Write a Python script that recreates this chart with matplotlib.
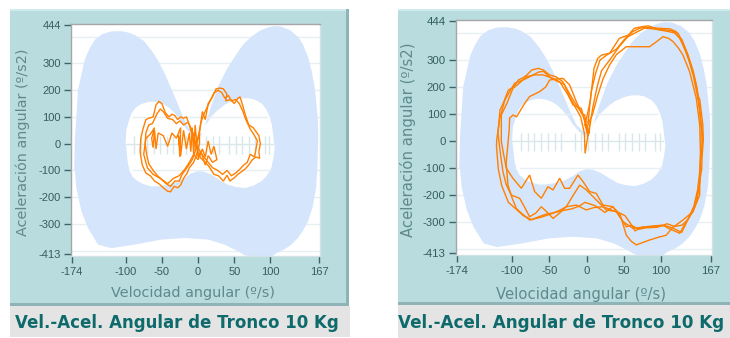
import matplotlib
matplotlib.use("Agg")
import matplotlib.pyplot as plt
from matplotlib.patches import Rectangle, Polygon

W, H = 730, 338

# ---------------- text / ticks ----------------
title_text = "Vel.-Acel. Angular de Tronco 10 Kg"
xlabel_text = "Velocidad angular (º/s)"
ylabel_text = "Aceleración angular (º/s2)"
x_ticks = [-174, -100, -50, 0, 50, 100, 167]
y_ticks = [-413, -300, -200, -100, 0, 100, 200, 300, 444]
grid_levels = [-400, -300, -200, -100, 100, 200, 300, 400]
strip_ticks_v = [-88, -79, -70, -61, -52, -43, -34, -16, -7, 2, 11, 20, 29,
                 43, 52, 61, 70, 79, 92, 98]

# ---------------- normative band (light blue) ----------------
band_outer_v = [-171, -170, -168, -165.7, -160, -156.5, -150, -142.7, -132, -120, -106,
                -95, -87.5, -75, -64.5, -55, -46, -32.2, -20.7, -13.8, -6, 0,
                6, 9.2, 18, 27.6, 40, 50.6, 62, 73.6, 85, 96.6, 105, 115, 127,
                138, 145, 151.8, 157, 161, 165.6, 166, 165, 163, 158, 151.8, 145,
                138, 128, 119.6, 108, 101, 80, 64.4, 55.2, 36.8, 13.8, -18.4,
                -50.7, -87.5, -119.7, -138, -151.9, -161, -168, -170]
band_outer_a = [-100, 14, 100, 201, 270, 313, 355, 388, 410, 420, 421,
                415, 407, 385, 350, 310, 263, 176, 101, 61, 40, 32,
                40, 63, 140, 213, 280, 325, 370, 400, 422, 435, 440, 438, 425,
                400, 370, 325, 270, 213, 88, 21, -80, -166, -240, -291, -325,
                -353, -380, -395, -410, -425, -425, -418, -403, -378, -359, -353,
                -359, -378, -391, -378, -316, -253, -166, -100]
band_inner_v = [-100, -99, -95, -92, -86, -80.6, -72, -64.5, -55, -46, -38, -32,
                -25, -18.5, -10, 0, 5, 9.2, 18, 27.6, 38, 50.6, 60, 69, 78,
                87.4, 94, 98.9, 102, 103.5, 105, 105.9, 104, 101.2, 95, 87.4,
                76, 64.4, 52, 41.4, 30, 18.4, 8, 0, -10, -18.4, -30, -41.5,
                -55, -64.5, -75, -82.9, -90, -94.3, -97, -99]
band_inner_a = [0, 51, 90, 113, 135, 145, 154, 157, 154, 145, 130, 113,
                90, 63, 35, 14, 35, 63, 100, 126, 148, 163, 169, 170, 165,
                151, 130, 101, 70, 38, 0, -16, -55, -91, -120, -141,
                -158, -166, -162, -154, -136, -116, -105, -103, -112, -129, -145, -154,
                -160, -160, -152, -141, -125, -103, -70, -16]

# ---------------- left panel loops ----------------
left1_v = [2, 6, 10, 14, 20, 25, 30, 35, 40, 38, 45, 50, 55, 58, 62, 65, 70, 76, 80,
           84, 86, 84, 85, 80, 75, 70, 65, 60, 55, 50, 44, 40, 35, 28, 22, 15, 10, 4,
           0, -4, -8, -12, -16, -20, -24, -28, -32, -36, -40, -45, -50, -54, -58, -62,
           -68, -72, -76, -79, -80, -77, -72, -66, -60, -54, -48, -42, -38, -33, -28,
           -24, -20, -15, -12, -6, -2, 2, 2]
left1_a = [40, 120, 90, 150, 175, 205, 208, 205, 185, 160, 165, 150, 170, 175, 140, 110,
           70, 60, 45, 30, 0, -30, -55, -50, -60, -80, -95, -105, -115, -128, -140,
           -118, -140, -120, -115, -85, -70, -55, -30, -5, 30, 70, 100, 95, 100, 90,
           105, 110, 100, 115, 150, 158, 145, 100, 95, 90, 55, 20, -30, -80, -110,
           -120, -140, -150, -165, -178, -180, -160, -165, -155, -130, -110, -90, -70,
           -40, 0, 40]
left2_v = [0, 4, 8, 15, 22, 28, 33, 37, 42, 46, 52, 57, 62, 66, 72, 78, 82, 80, 78, 72,
           68, 63, 58, 52, 46, 40, 34, 27, 20, 14, 8, 3, -3, -7, -10, -14, -20, -25,
           -30, -35, -42, -48, -52, -57, -63, -68, -72, -73, -71, -68, -62, -56, -50,
           -44, -38, -32, -26, -22, -18, -14, -8, -4, 0]
left2_a = [20, 80, 110, 150, 190, 200, 190, 170, 180, 160, 165, 150, 120, 90, 55, 30,
           10, -20, -50, -40, -70, -80, -95, -110, -120, -100, -115, -100, -90, -70,
           -50, -30, 0, 40, 60, 80, 70, 85, 75, 90, 95, 120, 130, 110, 75, 70, 40, 0,
           -40, -75, -100, -120, -135, -150, -160, -140, -140, -115, -100, -85, -60,
           -30, 20]
left3_v = [-2, -4, -6, -8, -10, -12, -16, -20, -24, -27, -25, -24, -30, -36, -42, -48,
           -55, -58, -60, -62, -64, -60, -66, -72, -75, -70, -62, -52, -42, -34, -26,
           -18, -12, -6, 0, 6, 10, 14, 18, 22, 26, 20, 14, 10, 4, 0, -2]
left3_a = [10, 70, -40, 60, -30, 40, -20, 50, -45, 30, -50, 60, 20, 40, -10, 30,
           40, -20, 50, -15, 20, 60, 35, 20, -40, -90, -115, -130, -150, -130, -120,
           -95, -70, -40, -60, -20, -50, 10, -40, -10, -60, -70, -45, -80, -30, -50, 10]

# ---------------- right panel loops ----------------
right1_v = [-2, 5, 10, 15, 20, 31, 44, 56, 64, 74, 83, 96, 107, 114, 123, 132, 140,
            145.5, 149.5, 152, 156, 156.6, 155, 154.5, 150, 145.5, 136.5, 127.6, 115,
            105, 90, 74, 65, 58, 51.5, 42.5, 35, 24.7, 11.3, -2.2, -10, -20, -30, -42,
            -55, -65, -74, -85, -95, -105, -114, -118.5, -121, -120.7, -118, -116.3,
            -112, -105, -98, -91.7, -85, -80, -73.7, -65, -58, -50, -41, -32, -22, -14,
            -5, 0, 2, -2]
right1_a = [60, 150, 270, 306, 318, 325, 380, 392, 417, 423, 426, 413, 411, 408, 398,
            337, 280, 226, 170, 152, 60, 4, -60, -103, -177, -238, -287, -337, -320,
            -312, -315, -318, -331, -300, -275, -263, -242, -263, -238, -226, -240,
            -250, -255, -263, -270, -280, -290, -275, -250, -226, -164, -103, -20, 4,
            60, 115, 140, 189, 200, 226, 235, 245, 263, 269, 263, 245, 238, 220, 171,
            134, 97, 48, 20, 60]
right2_v = [3, 8, 14, 20, 31, 44, 55, 65, 78, 89, 100, 110, 118, 125, 134, 143, 149.5,
            154, 156, 153, 152, 148, 142.8, 133.9, 124.9, 110, 102.5, 90, 80.2, 62.3,
            48.8, 35.4, 22, 13, 4.1, -4.9, -11.6, -22.8, -29.5, -36.2, -45.1, -51.9,
            -60.8, -69.8, -76.5, -87.7, -98.9, -107.8, -112, -114.5, -114.5, -107,
            -98.9, -90, -81, -70, -58.6, -45.1, -36.2, -25, -18.3, -7.1, -3, 3]
right2_a = [30, 120, 200, 260, 300, 350, 385, 400, 418, 415, 410, 405, 400, 380, 331,
            245, 158, 60, 17, -80, -150, -220, -260, -297, -340, -322, -310, -313,
            -316, -322, -297, -242, -236, -193, -186, -149, -125, -174, -174, -137,
            -180, -168, -211, -186, -125, -174, -137, -100, -40, 0, 97, 140, 195, 215,
            238, 245, 245, 232, 220, 171, 134, 121, 80, 30]
right3_v = [0, 8, 15, 22, 30.9, 40, 53.3, 70, 84.6, 95, 102.5, 110, 116, 123, 129.4,
            138.3, 147.3, 151.8, 153, 152, 151.8, 142.8, 129.4, 115, 107, 95, 84.6,
            66.7, 60, 53.3, 44.4, 35, 22, 10, -0.4, -13.8, -27.3, -36, -45.1, -60,
            -76.5, -88, -94.4, -100, -105.6, -108, -106, -104, -103.3, -98.9, -94,
            -89.9, -83, -76.5, -63.1, -55, -49.6, -40, -31.7, -22.8, -13.8, -6, -2.6, 0]
right3_a = [50, 100, 170, 230, 282, 320, 349, 349, 349, 370, 386, 380, 368, 345, 318,
            257, 158, 60, -50, -130, -199, -260, -291, -320, -347, -356, -365, -383,
            -370, -347, -266, -256, -242, -245, -254, -236, -242, -255, -266, -280,
            -291, -265, -248, -210, -162, -80, -20, 40, 85, 97, 90, 109, 140, 165,
            183, 200, 226, 230, 232, 208, 146, 100, 97, 50]
right4_v = [2, 6, 12, 18, 28, 40, 52, 62, 72, 82, 92, 104, 112, 120, 128, 136, 143, 148,
            152, 154, 153, 152, 149, 144, 136, 128, 118, 108, 95, 80, 70, 60, 53.3, 45,
            39.9, 26.4, 13, -0.4, -9.3, -18, -27.3, -36, -45.1, -53, -60.8, -68, -76.5,
            -84, -89.9, -101.1, -108, -112.3, -116, -119, -117, -115, -110, -104,
            -96.6, -85.4, -75, -65, -58, -50, -40, -30, -22, -14, -8, -3, -2, 4, 2]
right4_a = [70, 180, 250, 300, 320, 340, 380, 405, 418, 420, 418, 416, 415, 405, 375,
            320, 260, 200, 120, 40, -40, -110, -180, -240, -290, -310, -315, -305,
            -318, -320, -325, -310, -316, -280, -260, -254, -217, -180, -162, -200,
            -242, -265, -285, -262, -242, -265, -279, -240, -211, -199, -160, -113,
            -40, 30, 80, 100, 150, 180, 214, 226, 240, 255, 258, 238, 222, 210, 160,
            120, 90, 30, -45, 60, 70]

left_loops = [(left1_v, left1_a), (left2_v, left2_a), (left3_v, left3_a)]
right_loops = [(right1_v, right1_a), (right2_v, right2_a), (right3_v, right3_a),
               (right4_v, right4_a)]

# ---------------- colours ----------------
FRAME = "#b9dcdf"
FRAME_DARK = "#8fb4b7"
FRAME_LIGHT = "#cdeaec"
TITLE_BG = "#e4e4e4"
TITLE_FG = "#0f6a6b"
BAND = "#d5e5fb"
ORANGE = "#ff8000"
GRID = "#e6eff2"
STRIP = "#d9e7ea"
TICKLBL = "#335e5f"
AXLBL = "#5f8a8c"

fig = plt.figure(figsize=(W / 100, H / 100), dpi=100)
fig.patch.set_facecolor("white")


def frect(x0, y0, x1, y1, color, z=0):
    r = Rectangle((x0 / W, 1 - y1 / H), (x1 - x0) / W, (y1 - y0) / H,
                  transform=fig.transFigure, facecolor=color, edgecolor="none", zorder=z)
    fig.add_artist(r)


def panel(frame, title_box, title_x, title_ha, title_size, xmap, ymap, loops,
          ylab_x, ylab_y, xlab_x, xlab_y, lab_size, tick_size):
    fx0, fy0, fx1, fy1 = frame
    frect(fx0, fy0, fx1, fy1, FRAME)
    frect(fx0, fy0, fx1, fy0 + 2, FRAME_LIGHT)
    frect(fx1 - 3, fy0, fx1, fy1, FRAME_DARK)
    frect(fx0, fy1 - 3, fx1, fy1, FRAME_DARK)
    tx0, ty0, tx1, ty1 = title_box
    frect(tx0, ty0, tx1, ty1, TITLE_BG)
    fig.text(title_x / W, 1 - ((ty0 + ty1) / 2 + 1) / H, title_text, ha=title_ha, va="center",
             fontsize=title_size, fontweight="bold", color=TITLE_FG,
             family="DejaVu Sans")

    # data -> pixel mapping
    px0, pxs = xmap   # pixel of v=-174, px per unit
    py0, pys = ymap   # pixel of a=444, px per unit
    xl, xr = -176, 169
    yb, yt = -420, 446
    left = px0 + (xl + 174) * pxs
    right = px0 + (xr + 174) * pxs
    top = py0 + (444 - yt) * pys
    bottom = py0 + (444 - yb) * pys
    ax = fig.add_axes([left / W, 1 - bottom / H, (right - left) / W, (bottom - top) / H])
    ax.set_xlim(xl, xr)
    ax.set_ylim(yb, yt)
    ax.set_facecolor("white")

    for g in grid_levels:
        ax.axhline(g, color=GRID, lw=1.0, zorder=0.5)
    ax.add_patch(Polygon(list(zip(band_outer_v, band_outer_a)), closed=True,
                         facecolor=BAND, edgecolor="none", zorder=1))
    ax.add_patch(Polygon(list(zip(band_inner_v, band_inner_a)), closed=True,
                         facecolor="white", edgecolor="none", zorder=1.1))
    ax.axhline(0, xmin=(-100 - xl) / (xr - xl), xmax=(103 - xl) / (xr - xl),
               color=STRIP, lw=1.0, zorder=1.2)
    ax.axhline(100, xmin=(-90 - xl) / (xr - xl), xmax=(95 - xl) / (xr - xl),
               color=GRID, lw=1.0, zorder=1.2)
    ax.axhline(-100, xmin=(-90 - xl) / (xr - xl), xmax=(100 - xl) / (xr - xl),
               color=GRID, lw=1.0, zorder=1.2)
    ax.vlines(strip_ticks_v, -38, 30, color=STRIP, lw=1.0, zorder=1.2)

    for v, a in loops:
        ax.plot(v, a, color=ORANGE, lw=1.0, zorder=3, solid_joinstyle="miter")

    for s in ["top", "left"]:
        ax.spines[s].set_color("#a6a6a6")
        ax.spines[s].set_linewidth(1.0)
    for s in ["bottom", "right"]:
        ax.spines[s].set_color("#d2e2e4")
        ax.spines[s].set_linewidth(1.0)
    ax.spines["bottom"].set_zorder(4)

    ax.set_xticks(x_ticks)
    ax.set_yticks(y_ticks)
    ax.set_xticklabels([str(t) for t in x_ticks])
    ax.set_yticklabels([str(t) for t in y_ticks])
    ax.tick_params(axis="both", direction="out", length=5, width=1.0, color="#3e6566",
                   labelsize=tick_size, labelcolor=TICKLBL)
    ax.tick_params(axis="x", pad=3)
    ax.tick_params(axis="y", pad=2)
    for lbl in ax.get_xticklabels() + ax.get_yticklabels():
        lbl.set_family(["Liberation Sans Narrow", "Liberation Sans"])

    fig.text(ylab_x / W, 1 - ylab_y / H, ylabel_text, rotation=90, ha="center",
             va="center", fontsize=lab_size, color=AXLBL, family="DejaVu Sans")
    fig.text(xlab_x / W, 1 - xlab_y / H, xlabel_text, ha="center", va="center",
             fontsize=lab_size, color=AXLBL, family="DejaVu Sans")
    return ax


panel((10, 9, 349, 306), (10, 306, 350, 337), 177, "center", 12.0,
      (72, 247 / 341), (25, 229 / 857), left_loops,
      23, 142, 193, 293, 10.4, 8.0)
panel((398, 9, 733, 305), (398, 305, 733, 338), 398, "left", 12.1,
      (457, 254 / 341), (21, 232 / 857), right_loops,
      408, 140, 581, 294, 10.7, 8.2)

fig.savefig("out.png", dpi=100, facecolor="white")
